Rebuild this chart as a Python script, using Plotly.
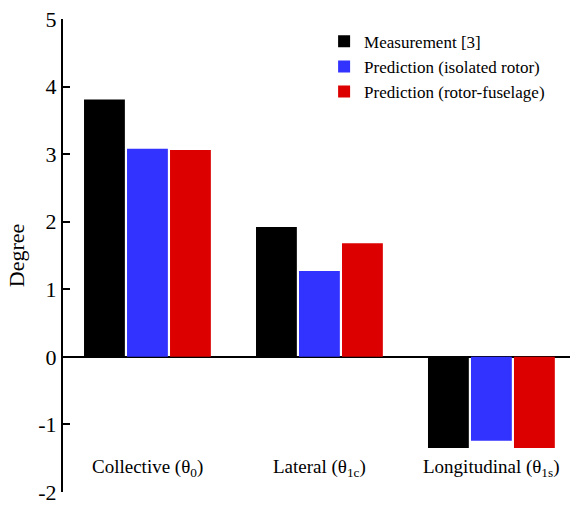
import plotly.graph_objects as go

categories = ["Collective (θ<sub>0</sub>)", "Lateral (θ<sub>1c</sub>)", "Longitudinal (θ<sub>1s</sub>)"]
measurement = [3.81, 1.92, -1.35]
pred_isolated = [3.08, 1.27, -1.24]
pred_fuselage = [3.06, 1.68, -1.35]
series_names = ["Measurement [3]", "Prediction (isolated rotor)", "Prediction (rotor-fuselage)"]
colors = ["#000000", "#3333ff", "#dd0000"]
ytick_vals = [-2, -1, 0, 1, 2, 3, 4, 5]
ytick_text = ["-2", "-1", "0", "1", "2", "3", "4", "5"]

xpos = list(range(len(categories)))
fig = go.Figure()
for name, vals, c in zip(series_names, [measurement, pred_isolated, pred_fuselage], colors):
    fig.add_trace(go.Bar(x=xpos, y=vals, name=name, marker=dict(color=c, line=dict(width=0))))

for xi, lab in zip(xpos, categories):
    fig.add_annotation(x=xi, y=-1.65, xref="x", yref="y", text=lab, showarrow=False,
                       font=dict(family="Liberation Serif", size=19, color="black"))

fig.update_layout(
    width=577, height=512,
    margin=dict(l=63, r=7, t=15, b=15),
    paper_bgcolor="white", plot_bgcolor="white",
    barmode="group", bargap=0.25, bargroupgap=0.05,
    font=dict(family="Liberation Serif", color="black"),
    showlegend=True,
    legend=dict(x=0.515, y=0.99, xanchor="left", yanchor="top",
                font=dict(family="Liberation Serif", size=17, color="black"),
                bgcolor="rgba(0,0,0,0)", tracegroupgap=0, itemwidth=30),
    xaxis=dict(range=[-0.491, 2.457], showticklabels=False, showline=False, ticks="",
               showgrid=False, zeroline=False),
    yaxis=dict(range=[-2, 5], tickvals=ytick_vals, ticktext=ytick_text, ticks="inside", ticklen=7, tickwidth=1.5,
               tickcolor="black", showline=True, linecolor="black", linewidth=2,
               showgrid=False, zeroline=True, zerolinecolor="black", zerolinewidth=2,
               tickfont=dict(family="Liberation Serif", size=22, color="black"),
               title=dict(text="Degree", font=dict(family="Liberation Serif", size=22, color="black"), standoff=8)),
)

fig.write_html("out.html")
